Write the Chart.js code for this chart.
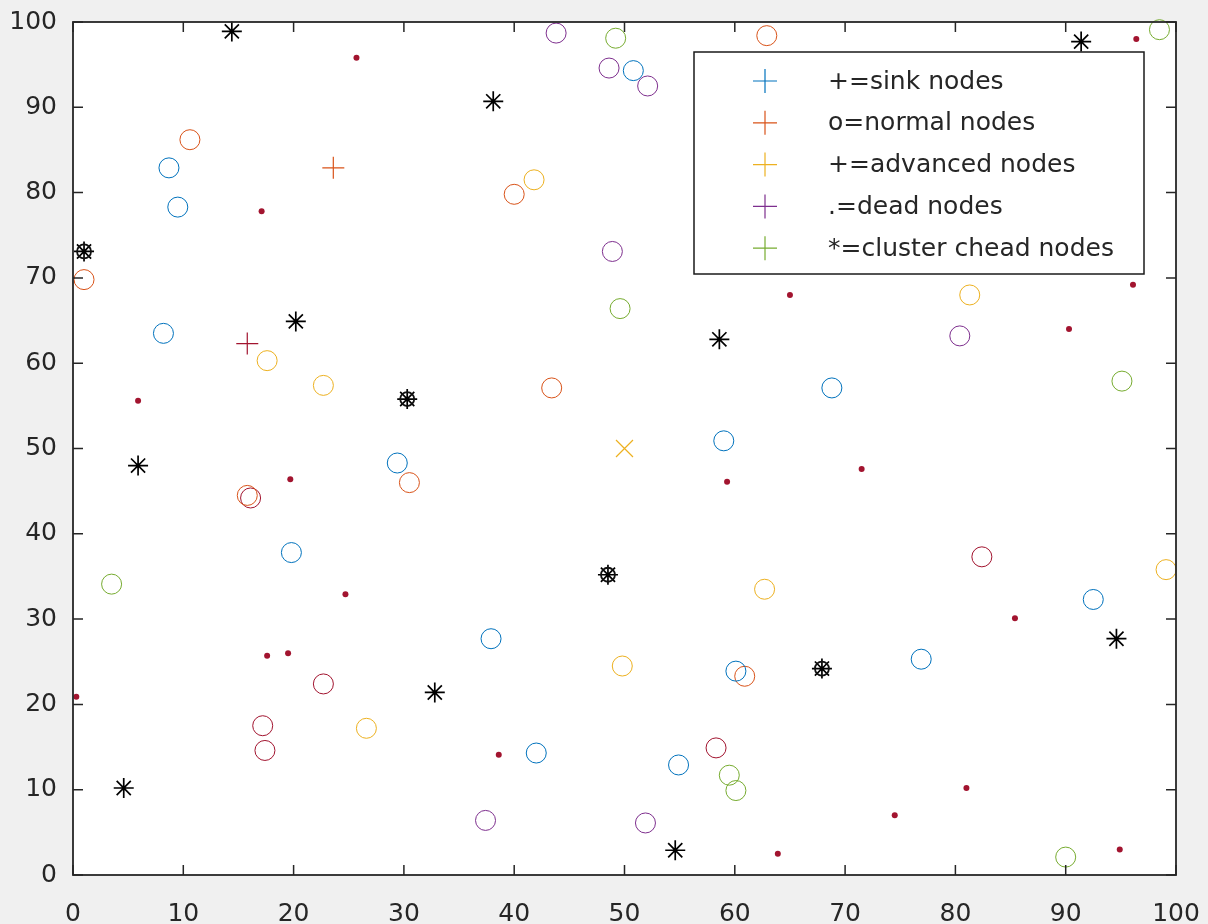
<!DOCTYPE html>
<html>
<head>
<meta charset="utf-8">
<script src="https://cdn.jsdelivr.net/npm/chart.js@4.4.0/dist/chart.umd.min.js"></script>
<style>
  html, body { margin: 0; padding: 0; background: #f0f0f0; }
  #wrap { width: 1208px; height: 924px; }
</style>
</head>
<body>
<div id="wrap"><canvas id="chart"></canvas></div>
<script>
// tick values
const tickValues = [0, 10, 20, 30, 40, 50, 60, 70, 80, 90, 100];

// normal nodes (circles), grouped by colour
const blueX = [8.7, 9.5, 8.2, 29.4, 19.8, 37.9, 42.0, 54.9, 59.0, 68.8, 76.9, 92.5, 60.1, 50.8];
const blueY = [82.9, 78.3, 63.5, 48.3, 37.8, 27.7, 14.3, 12.9, 50.9, 57.1, 25.3, 32.3, 23.9, 94.3];
const orangeX = [10.6, 1.0, 15.8, 30.5, 40.0, 43.4, 62.9, 60.9];
const orangeY = [86.2, 69.8, 44.5, 46.0, 79.8, 57.1, 98.4, 23.3];
const yellowX = [17.6, 22.7, 26.6, 41.8, 49.8, 62.7, 81.3, 99.1];
const yellowY = [60.3, 57.4, 17.2, 81.5, 24.5, 33.5, 68.0, 35.8];
const purpleX = [43.8, 48.6, 52.1, 48.9, 80.4, 37.4, 51.9];
const purpleY = [98.7, 94.6, 92.5, 73.1, 63.2, 6.4, 6.1];
const greenX = [49.2, 49.6, 98.5, 95.1, 3.5, 59.5, 60.1, 90.0];
const greenY = [98.1, 66.4, 99.1, 57.9, 34.1, 11.7, 9.9, 2.1];
const maroonX = [17.2, 17.4, 22.7, 58.3, 82.4, 16.1];
const maroonY = [17.5, 14.6, 22.4, 14.9, 37.3, 44.2];

// dead nodes (dots)
const deadX = [25.7, 17.1, 65.0, 96.4, 96.1, 90.3, 71.5, 85.4, 81.0, 74.5, 94.9, 63.9, 38.6, 0.3, 17.6, 19.5, 5.9, 19.7, 24.7, 59.3];
const deadY = [95.8, 77.8, 68.0, 98.0, 69.2, 64.0, 47.6, 30.1, 10.2, 7.0, 3.0, 2.5, 14.1, 20.9, 25.7, 26.0, 55.6, 46.4, 32.9, 46.1];

// cluster heads (asterisks); some sit on top of a dark ring
const headX = [14.4, 38.1, 1.0, 20.2, 30.3, 5.9, 58.6, 48.5, 32.8, 4.6, 54.6, 67.9, 94.6, 91.4];
const headY = [98.9, 90.7, 73.1, 64.9, 55.8, 48.0, 62.8, 35.2, 21.4, 10.2, 2.9, 24.2, 27.7, 97.7];
const ringX = [1.0, 30.3, 48.5, 67.9];
const ringY = [73.1, 55.8, 35.2, 24.2];

// plus markers and the sink
const plusOrangeX = [23.6], plusOrangeY = [82.9];
const plusMaroonX = [15.8], plusMaroonY = [62.3];
const sinkX = [50.0], sinkY = [50.0];

// legend
const legendLabels = ['+=sink nodes', 'o=normal nodes', '+=advanced nodes', '.=dead nodes', '*=cluster chead nodes'];
const legendColors = ['#0072BD', '#D95319', '#EDB120', '#7E2F8E', '#77AC30'];

const pts = (xs, ys) => xs.map((x, i) => ({ x, y: ys[i] }));

function ring(xs, ys, color) {
  return {
    data: pts(xs, ys), pointStyle: 'circle', pointRadius: 10,
    borderColor: color, backgroundColor: 'rgba(0,0,0,0)', borderWidth: 1, clip: false
  };
}

const FONT = 'DejaVu Sans';
const INK = '#262626';

// keep the plot box where the layout padding puts it
function noScalePadding(s) {
  s.paddingTop = 0; s.paddingBottom = 0; s.paddingLeft = 0; s.paddingRight = 0;
}

const matlabAxes = {
  id: 'matlabAxes',
  beforeDraw(chart) {
    const { ctx, chartArea: a } = chart;
    ctx.save();
    ctx.fillStyle = '#f0f0f0';
    ctx.fillRect(0, 0, chart.width, chart.height);
    ctx.fillStyle = '#ffffff';
    ctx.fillRect(a.left, a.top, a.right - a.left, a.bottom - a.top);
    ctx.restore();
  },
  afterDatasetsDraw(chart) {
    const { ctx, chartArea: a, scales } = chart;
    ctx.save();
    ctx.strokeStyle = INK;
    ctx.lineWidth = 1.8;
    ctx.strokeRect(a.left, a.top, a.right - a.left, a.bottom - a.top);

    // inward ticks on all four sides
    const tl = 10;
    ctx.lineWidth = 1.5;
    ctx.beginPath();
    tickValues.forEach(v => {
      const px = scales.x.getPixelForValue(v);
      ctx.moveTo(px, a.bottom); ctx.lineTo(px, a.bottom - tl);
      ctx.moveTo(px, a.top); ctx.lineTo(px, a.top + tl);
      const py = scales.y.getPixelForValue(v);
      ctx.moveTo(a.left, py); ctx.lineTo(a.left + tl, py);
      ctx.moveTo(a.right, py); ctx.lineTo(a.right - tl, py);
    });
    ctx.stroke();

    // legend box, top right inside the axes
    const bw = 450, bh = 222;
    const bx = a.right - 32 - bw, by = a.top + 30;
    ctx.fillStyle = '#ffffff';
    ctx.fillRect(bx, by, bw, bh);
    ctx.lineWidth = 1.5;
    ctx.strokeStyle = '#1a1a1a';
    ctx.strokeRect(bx, by, bw, bh);
    ctx.font = `25px "${FONT}"`;
    ctx.textBaseline = 'middle';
    ctx.textAlign = 'left';
    legendLabels.forEach((txt, i) => {
      const y = by + 29 + i * 41.8;
      const mx = bx + 71;
      ctx.strokeStyle = legendColors[i];
      ctx.lineWidth = 1.2;
      ctx.beginPath();
      ctx.moveTo(mx - 12, y); ctx.lineTo(mx + 12, y);
      ctx.moveTo(mx, y - 12); ctx.lineTo(mx, y + 12);
      ctx.stroke();
      ctx.fillStyle = INK;
      ctx.fillText(txt, bx + 134, y + 1);
    });
    ctx.restore();
  }
};

new Chart(document.getElementById('chart'), {
  type: 'scatter',
  data: {
    datasets: [
      ring(blueX, blueY, '#0072BD'),
      ring(orangeX, orangeY, '#D95319'),
      ring(yellowX, yellowY, '#EDB120'),
      ring(purpleX, purpleY, '#7E2F8E'),
      ring(greenX, greenY, '#77AC30'),
      ring(maroonX, maroonY, '#A2142F'),
      {
        data: pts(deadX, deadY), pointStyle: 'circle', pointRadius: 3,
        backgroundColor: '#A2142F', borderColor: '#A2142F', borderWidth: 0, clip: false
      },
      {
        data: pts(ringX, ringY), pointStyle: 'circle', pointRadius: 7,
        backgroundColor: 'rgba(0,0,0,0)', borderColor: '#111111', borderWidth: 1.8, clip: false
      },
      {
        data: pts(headX, headY), pointStyle: 'star', pointRadius: 10,
        borderColor: '#000000', borderWidth: 1.7, clip: false
      },
      {
        data: pts(plusOrangeX, plusOrangeY), pointStyle: 'cross', pointRadius: 11,
        borderColor: '#D95319', borderWidth: 1.2, clip: false
      },
      {
        data: pts(plusMaroonX, plusMaroonY), pointStyle: 'cross', pointRadius: 11,
        borderColor: '#A2142F', borderWidth: 1.2, clip: false
      },
      {
        data: pts(sinkX, sinkY), pointStyle: 'crossRot', pointRadius: 12,
        borderColor: '#EDB120', borderWidth: 1.2, clip: false
      }
    ]
  },
  options: {
    responsive: true,
    maintainAspectRatio: false,
    animation: false,
    events: [],
    layout: { padding: { top: 22, right: 32, bottom: 0, left: 0 } },
    plugins: { legend: { display: false }, tooltip: { enabled: false } },
    scales: {
      x: {
        type: 'linear', min: 0, max: 100,
        afterBuildTicks: s => { s.ticks = tickValues.map(v => ({ value: v })); },
        afterFit: s => { s.height = 49; noScalePadding(s); },
        grid: { display: false, drawTicks: false },
        border: { display: false },
        ticks: { font: { family: FONT, size: 25 }, color: INK, padding: 24, maxRotation: 0 }
      },
      y: {
        type: 'linear', min: 0, max: 100,
        afterBuildTicks: s => { s.ticks = tickValues.map(v => ({ value: v })); },
        afterFit: s => { s.width = 73; noScalePadding(s); },
        grid: { display: false, drawTicks: false },
        border: { display: false },
        ticks: { font: { family: FONT, size: 25 }, color: INK, padding: 16 }
      }
    }
  },
  plugins: [matlabAxes]
});
</script>
</body>
</html>
